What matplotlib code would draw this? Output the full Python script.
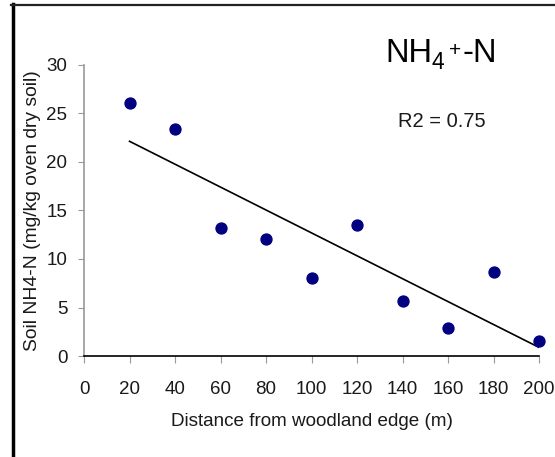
import numpy as np
import matplotlib
matplotlib.use('Agg')
import matplotlib.pyplot as plt
from matplotlib.lines import Line2D

# data
distance = [20, 40, 60, 80, 100, 120, 140, 160, 180, 200]
nh4 = [26.1, 23.4, 13.2, 12.1, 8.0, 13.5, 5.7, 2.9, 8.7, 1.5]
x_ticks = list(range(0, 201, 20))
y_ticks = list(range(0, 31, 5))

plt.rcParams['font.family'] = ['Liberation Sans', 'DejaVu Sans']

W, H = 555, 457
fig = plt.figure(figsize=(W / 100, H / 100), dpi=100)
ax = fig.add_axes([0.1514, 0.2210, 0.8198, 0.6368])

ax.scatter(distance, nh4, s=62, color='#000080', zorder=3, clip_on=False)

# linear trend line
slope, intercept = np.polyfit(distance, nh4, 1)
xs = np.array([min(distance), max(distance)])
ax.plot(xs, slope * xs + intercept, color='black', lw=1.2, zorder=2)

ax.set_xlim(0, 200)
ax.set_ylim(0, 30)
ax.set_xticks(x_ticks)
ax.set_yticks(y_ticks)
ax.tick_params(axis='x', length=5, color='#999999', pad=13, labelsize=13.5, labelcolor='#1a1a1a')
ax.tick_params(axis='y', length=4, color='#999999', pad=8, labelsize=13.5, labelcolor='#1a1a1a')

for s in ['top', 'right']:
    ax.spines[s].set_visible(False)
ax.spines['left'].set_color('#999999')
ax.spines['left'].set_linewidth(1.2)
ax.spines['bottom'].set_color('black')
ax.spines['bottom'].set_linewidth(1.2)

ax.set_xlabel('Distance from woodland edge (m)', fontsize=13.6, color='#1a1a1a', labelpad=11)
ax.set_ylabel('Soil NH4-N (mg/kg oven dry soil)', fontsize=13.9, color='#1a1a1a', labelpad=4)

# title NH4+-N built from pieces so the 4 and + sit like in the original
fig.text(385 / W, 1 - 62 / H, 'NH', fontsize=23.5, ha='left', va='baseline')
fig.text(432 / W, 1 - 69 / H, '4', fontsize=16.5, ha='left', va='baseline')
fig.text(449 / W, 1 - 56 / H, '+', fontsize=15, ha='left', va='baseline')
fig.text(463 / W, 1 - 62 / H, '-N', fontsize=23.5, ha='left', va='baseline')

fig.text(0.717, 0.722, 'R2 = 0.75', fontsize=14.5, ha='left', va='baseline', color='#1a1a1a')

# outer frame of the original figure
fig.add_artist(Line2D([12.5 / W, 12.5 / W], [0, 1 - 4 / H], color='black', lw=2.5))
fig.add_artist(Line2D([11 / W, 1], [1 - 5 / H, 1 - 5 / H], color='#222222', lw=1.6))

fig.savefig('out.png', dpi=100)
